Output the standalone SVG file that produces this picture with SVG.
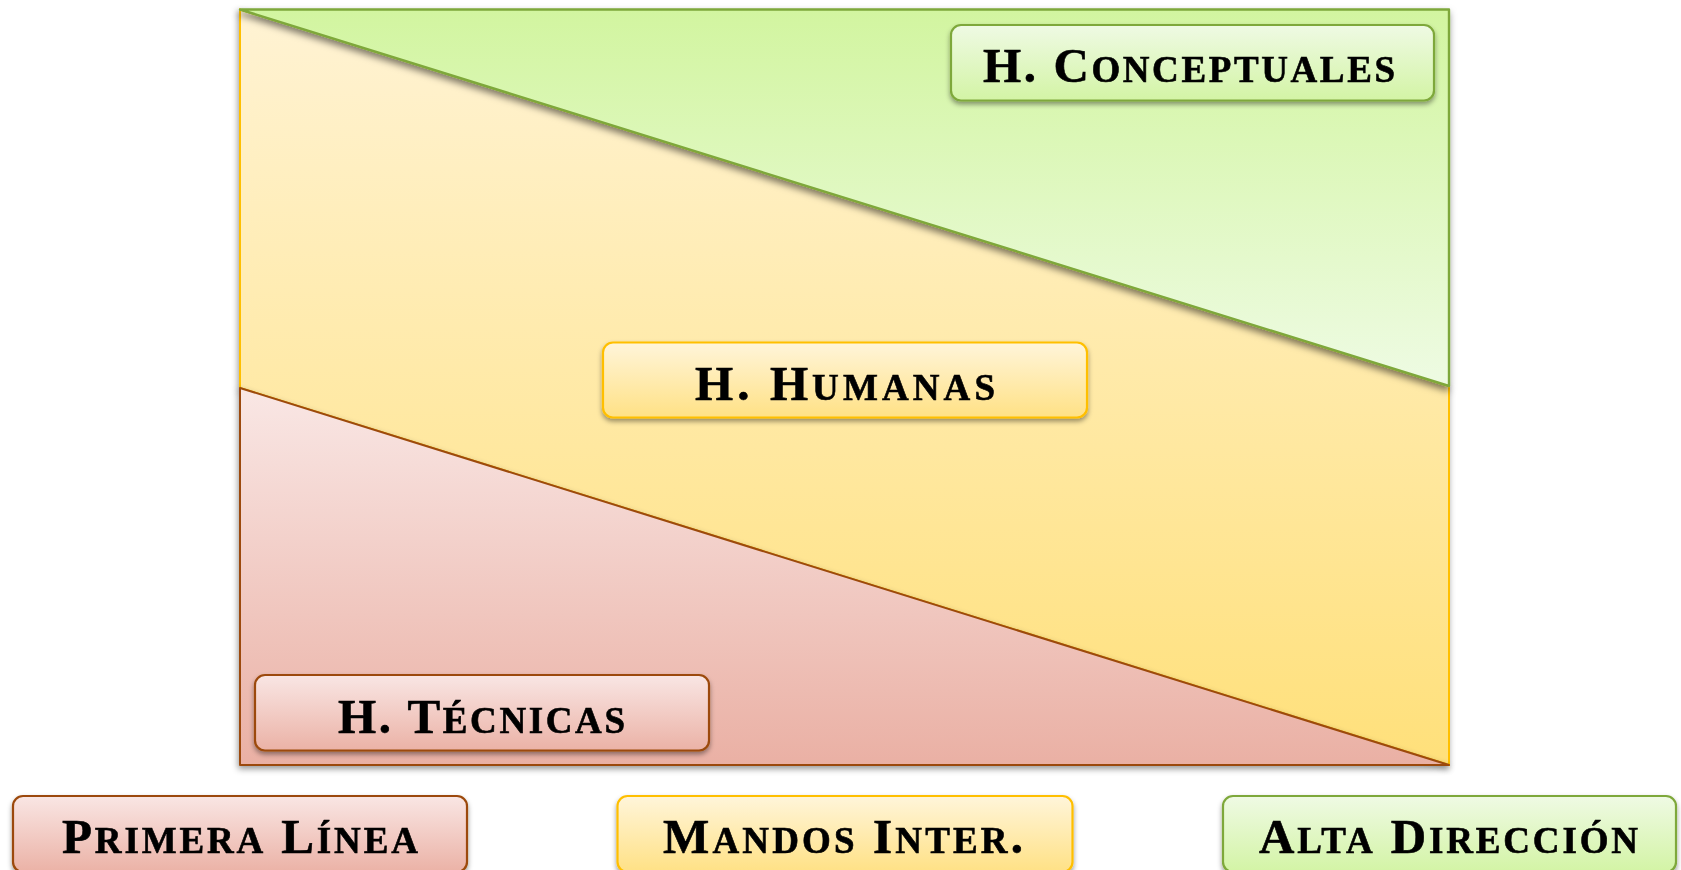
<svg xmlns="http://www.w3.org/2000/svg" width="1681" height="870" viewBox="0 0 1681 870">
<style>
.lbl{font-family:"Liberation Serif","Times New Roman",serif;font-weight:bold;fill:#000;stroke:#000;stroke-width:0.6;font-size:49px}
.sc{font-size:37px}
.bx{stroke-width:2.2}
</style>
<defs>
<linearGradient id="gG" x1="0" y1="0" x2="0" y2="1"><stop offset="0" stop-color="#d2f5a0"/><stop offset="1" stop-color="#eefbe3"/></linearGradient>
<linearGradient id="gY" x1="0" y1="0" x2="0" y2="1"><stop offset="0" stop-color="#fff3d4"/><stop offset="1" stop-color="#ffe07a"/></linearGradient>
<linearGradient id="gR" x1="0" y1="0" x2="0" y2="1"><stop offset="0" stop-color="#f9e7e5"/><stop offset="1" stop-color="#eab0a4"/></linearGradient>
<linearGradient id="bG" x1="0" y1="0" x2="0" y2="1"><stop offset="0" stop-color="#effae4"/><stop offset="1" stop-color="#d3f4a5"/></linearGradient>
<linearGradient id="bY" x1="0" y1="0" x2="0" y2="1"><stop offset="0" stop-color="#fff5da"/><stop offset="1" stop-color="#ffe185"/></linearGradient>
<linearGradient id="bR" x1="0" y1="0" x2="0" y2="1"><stop offset="0" stop-color="#f9e6e4"/><stop offset="1" stop-color="#ebb2a6"/></linearGradient>
<filter id="sh" x="-10%" y="-10%" width="120%" height="130%"><feDropShadow dx="0" dy="3" stdDeviation="2.5" flood-color="#000" flood-opacity="0.4"/></filter>
<filter id="sh2" x="-10%" y="-10%" width="120%" height="130%"><feDropShadow dx="-1" dy="3" stdDeviation="3" flood-color="#000" flood-opacity="0.4"/></filter>
<filter id="sh3" x="-10%" y="-10%" width="120%" height="130%"><feDropShadow dx="-1" dy="4" stdDeviation="3.5" flood-color="#000" flood-opacity="0.5"/></filter>
</defs>
<g id="areas">
<polygon id="area-humanas" points="240,9.5 1449,386 1449,765 240,388" fill="url(#gY)" stroke="#ffbf00" stroke-width="2" filter="url(#sh2)"/>
<polygon id="area-tecnicas" points="240,388 1449,765 240,765" fill="url(#gR)" stroke="#9c4a09" stroke-width="2" stroke-linejoin="round" filter="url(#sh2)"/>
<polygon id="area-conceptuales" points="240,9.5 1449,9.5 1449,386" fill="url(#gG)" stroke="#7ea83a" stroke-width="2.4" stroke-linejoin="round" filter="url(#sh3)"/>
</g>
<g id="n-conceptuales" filter="url(#sh)">
<rect class="bx" x="951" y="25" width="483" height="75.5" rx="10" fill="url(#bG)" stroke="#7ea83a"/>
<text class="lbl" x="983" y="82" textLength="412" lengthAdjust="spacing">H. C<tspan class="sc">ONCEPTUALES</tspan></text>
</g>
<g id="n-humanas" filter="url(#sh)">
<rect class="bx" x="603" y="342.5" width="484" height="75" rx="10" fill="url(#bY)" stroke="#ffbf00"/>
<text class="lbl" x="695" y="400" textLength="300" lengthAdjust="spacing">H. H<tspan class="sc">UMANAS</tspan></text>
</g>
<g id="n-tecnicas" filter="url(#sh)">
<rect class="bx" x="255" y="675" width="454" height="75.5" rx="10" fill="url(#bR)" stroke="#9c4a09"/>
<text class="lbl" x="338" y="732.5" textLength="287" lengthAdjust="spacing">H. T<tspan class="sc">ÉCNICAS</tspan></text>
</g>
<g id="n-primera" filter="url(#sh)">
<rect class="bx" x="13" y="796" width="454" height="76" rx="10" fill="url(#bR)" stroke="#9c4a09"/>
<text class="lbl" x="62" y="853" textLength="356" lengthAdjust="spacing">P<tspan class="sc">RIMERA</tspan> L<tspan class="sc">ÍNEA</tspan></text>
</g>
<g id="n-mandos" filter="url(#sh)">
<rect class="bx" x="617.5" y="796" width="455" height="76" rx="10" fill="url(#bY)" stroke="#ffbf00"/>
<text class="lbl" x="663" y="853" textLength="360" lengthAdjust="spacing">M<tspan class="sc">ANDOS</tspan> I<tspan class="sc">NTER</tspan>.</text>
</g>
<g id="n-alta" filter="url(#sh)">
<rect class="bx" x="1223" y="796" width="453" height="76" rx="10" fill="url(#bG)" stroke="#7ea83a"/>
<text class="lbl" x="1259" y="853" textLength="379" lengthAdjust="spacing">A<tspan class="sc">LTA</tspan> D<tspan class="sc">IRECCIÓN</tspan></text>
</g>
<g id="connectors"/>
</svg>
